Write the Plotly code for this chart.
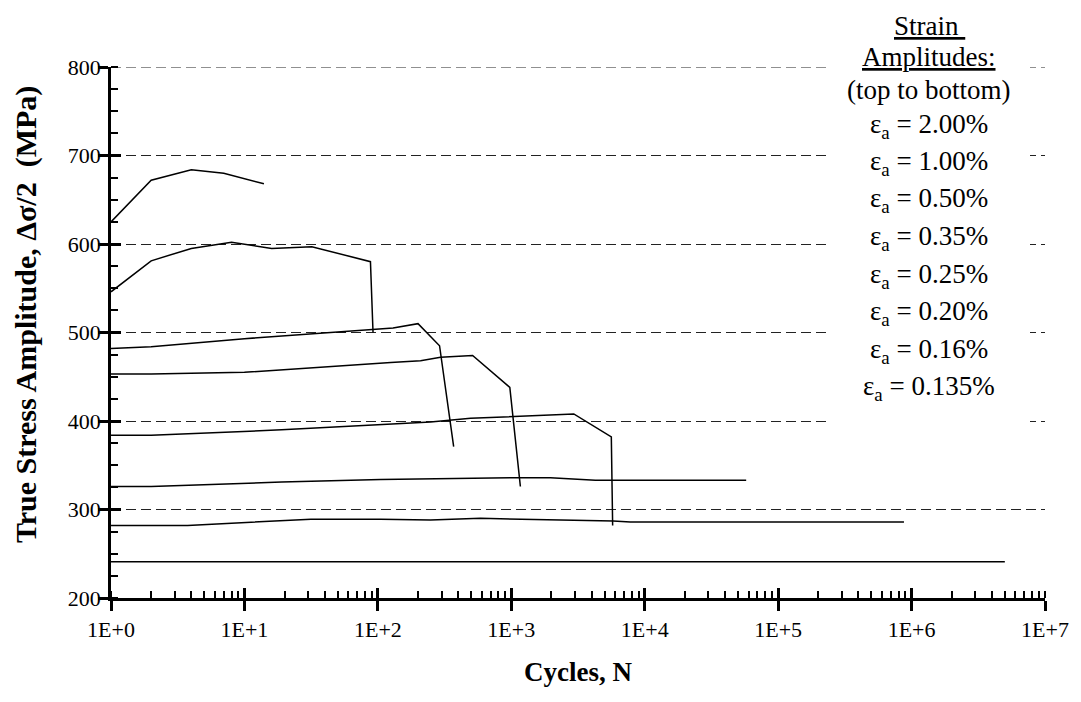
import plotly.graph_objects as go

# ---- data ----
labels = ["ε<sub>a</sub> = 2.00%", "ε<sub>a</sub> = 1.00%", "ε<sub>a</sub> = 0.50%",
          "ε<sub>a</sub> = 0.35%", "ε<sub>a</sub> = 0.25%", "ε<sub>a</sub> = 0.20%",
          "ε<sub>a</sub> = 0.16%", "ε<sub>a</sub> = 0.135%"]

n_200 = [1, 2, 4, 7, 14]
s_200 = [625, 672, 684, 680, 668]

n_100 = [1, 2, 4, 8, 16, 32, 88, 92]
s_100 = [546, 581, 595, 602, 595, 597, 580, 500]

n_050 = [1, 2, 10, 30, 100, 130, 200, 290, 370]
s_050 = [482, 484, 493, 498, 504, 505, 510, 485, 371]

n_035 = [1, 2, 10, 19, 125, 209, 295, 513, 975, 1170]
s_035 = [453, 453, 455, 458, 466, 468, 472, 474, 438, 326]

n_025 = [1, 2, 19, 105, 248, 495, 2940, 5620, 5750]
s_025 = [384, 384, 390, 396, 399, 403, 408, 382, 282]

n_020 = [1, 2, 19, 105, 1170, 1965, 4270, 57600]
s_020 = [326, 326, 331, 334, 336, 336, 333, 333]

n_016 = [1, 3.75, 31.5, 105, 248, 588, 5800, 7800, 877000]
s_016 = [282, 282, 289, 289, 288, 290, 287, 286, 286]

n_0135 = [1, 5.0e6]
s_0135 = [241, 241]

series = [(n_200, s_200), (n_100, s_100), (n_050, s_050), (n_035, s_035),
          (n_025, s_025), (n_020, s_020), (n_016, s_016), (n_0135, s_0135)]

x_tickvals = [1, 10, 100, 1e3, 1e4, 1e5, 1e6, 1e7]
x_ticktext = ["1E+0", "1E+1", "1E+2", "1E+3", "1E+4", "1E+5", "1E+6", "1E+7"]
y_tickvals = [200, 300, 400, 500, 600, 700, 800]

FONT = "Liberation Serif, Times New Roman, serif"

fig = go.Figure()
for (n, s), lab in zip(series, labels):
    fig.add_trace(go.Scatter(x=n, y=s, mode="lines", name=lab,
                             line=dict(color="black", width=1.5),
                             showlegend=False, hoverinfo="x+y"))

# invisible trace on the overlay axes so they render
fig.add_trace(go.Scatter(x=[1], y=[200], xaxis="x2", yaxis="y2", mode="markers",
                         marker=dict(opacity=0), showlegend=False, hoverinfo="skip"))

# page body has an 8px margin -> figure is offset by 8px in the screenshot
OFF = 8
W, H = 1081 - OFF, 702 - OFF
PL, PR, PT, PB = 111, 1045, 67, 598          # plot area in screenshot pixels
L, T = PL - OFF, PT - OFF
R, B = 1081 - PR, 702 - PB
pw, ph = PR - PL, PB - PT

def px(xs):
    return (xs - PL) / pw

def py(ys):
    return (PB - ys) / ph

axis_common = dict(showline=True, linecolor="black", linewidth=2.5, mirror=False,
                   tickcolor="black", tickwidth=2.5, ticklen=10,
                   tickfont=dict(family=FONT, size=22, color="black"),
                   zeroline=False)

GRID_DASH = "10px,5px"

fig.update_layout(
    width=W, height=H,
    margin=dict(l=L, r=R, t=T, b=B, autoexpand=False),
    paper_bgcolor="white", plot_bgcolor="white",
    font=dict(family=FONT, color="black"),
    xaxis=dict(type="log", range=[0, 7], tickvals=x_tickvals, ticktext=x_ticktext,
               ticks="outside", showgrid=False,
               minor=dict(ticks="inside", ticklen=7, tickwidth=2, tickcolor="black",
                          dtick="D1", showgrid=False),
               **axis_common),
    yaxis=dict(range=[200, 800], tickvals=y_tickvals, ticks="outside",
               showgrid=True, gridcolor="#222", gridwidth=1, griddash=GRID_DASH,
               ticklabelstandoff=-7,
               minor=dict(ticks="inside", ticklen=7, tickwidth=2, tickcolor="black",
                          dtick=25, showgrid=False),
               **axis_common),
    xaxis2=dict(type="log", range=[0, 7], overlaying="x", anchor="y", side="bottom",
                tickvals=x_tickvals, ticks="inside", ticklen=10, tickwidth=2.5,
                tickcolor="black", showticklabels=False, showgrid=False,
                showline=False, zeroline=False),
    yaxis2=dict(range=[200, 800], overlaying="y", anchor="x", side="left",
                tickvals=y_tickvals, ticks="inside", ticklen=10, tickwidth=2.5,
                tickcolor="black", showticklabels=False, showgrid=False,
                showline=False, zeroline=False),
)

# top (800) dashed gridline, which plotly omits at the range edge
fig.add_shape(type="line", xref="paper", yref="y", x0=0, x1=1, y0=800, y1=800,
              line=dict(color="#222", width=1, dash=GRID_DASH), layer="below")

# white box behind the legend text (interrupts the dashed grid)
fig.add_shape(type="rect", xref="paper", yref="paper",
              x0=px(828), x1=px(1030), y0=py(432), y1=py(OFF),
              fillcolor="white", line=dict(width=0), layer="above")

legend_lines = ["<u>Strain </u>", "<u>Amplitudes:</u>", "(top to bottom)"] + labels
legend_y = [26, 57, 90, 125.5, 163, 200.5, 238, 275.5, 313, 350.5, 388]
for txt, yy in zip(legend_lines, legend_y):
    fig.add_annotation(text=txt, xref="paper", yref="paper",
                       x=px(929), y=py(yy),
                       xanchor="center", yanchor="middle", showarrow=False,
                       borderpad=0,
                       font=dict(family=FONT, size=27, color="black"))

# axis titles
fig.add_annotation(text="<b>True Stress Amplitude, Δσ/2  (MPa)</b>", xref="paper", yref="paper",
                   x=px(26), y=py(315), xanchor="center", yanchor="middle",
                   textangle=-90, showarrow=False,
                   font=dict(family=FONT, size=30, color="black"))
fig.add_annotation(text="<b>Cycles, N</b>", xref="paper", yref="paper",
                   x=px(578), y=py(672), xanchor="center", yanchor="middle",
                   showarrow=False, font=dict(family=FONT, size=27, color="black"))

fig.write_html("out.html")
